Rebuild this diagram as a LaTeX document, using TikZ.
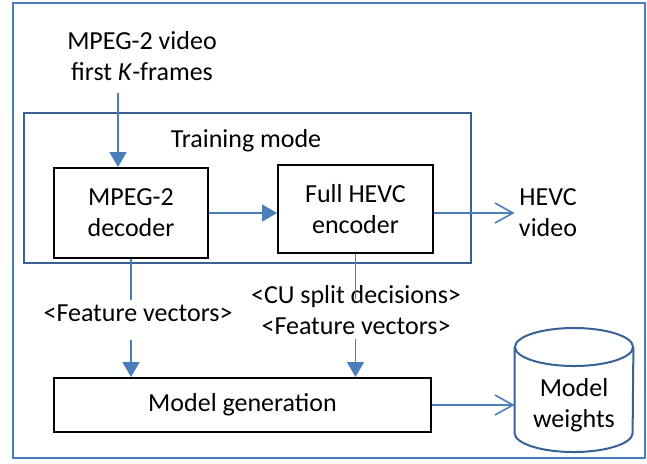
\documentclass[tikz,border=0pt]{standalone}
\usepackage{fontspec}
\setmainfont{Carlito}
\usetikzlibrary{arrows.meta, positioning}
\definecolor{linkblue}{RGB}{74,126,187}
\definecolor{frameblue}{RGB}{58,97,150}
\tikzset{
    x=0.5pt, y=-0.5pt, % one unit is one pixel of the drawing
    font=\fontsize{13pt}{15.5pt}\selectfont,
    block/.style={
            draw=black,
            line width=1pt,
            align=center,
            inner sep=0pt,
        },
    caption/.style={align=center, inner sep=2pt},
    plain/.style={draw=linkblue, line width=0.8pt}, % line with no tip
    feed/.style={plain, -{Triangle[width=8.5pt, length=7.5pt]}}, % filled head
    emit/.style={plain, -{Straight Barb[width=10pt, length=9pt]}}, % open head
}

\begin{document}
\begin{tikzpicture}
                \useasboundingbox (0,0) rectangle (647,463);

                % frames
                \draw[linkblue, line width=0.8pt] (13,3) rectangle (645,458);
                \draw[frameblue, line width=1pt] (24,113) rectangle (471,263);

                % nodes
                \node[caption] (input) at (142,56) {MPEG-2 video\\first \textit{K}-frames};
                \node[caption] (mode) at (246,141) {Training mode};
                \node[block, minimum width=77pt, minimum height=45pt] (decoder) at (131,213) {MPEG-2\\decoder};
                \node[block, minimum width=77.5pt, minimum height=44pt] (encoder) at (355.5,209) {Full HEVC\\encoder};
                \node[caption] (hevc) at (548,213) {HEVC\\video};
                \node[caption] (featA) at (138,313) {<Feature vectors>};
                \node[caption] (featB) at (356,310) {<CU split decisions>\\<Feature vectors>};
                \node[block, minimum width=188.5pt, minimum height=27pt] (modelgen) at (242.5,405) {Model generation};
                \node[caption, minimum width=59pt, inner sep=0pt] (weights) at (574,405) {Model\\weights};

                % cylinder round the weights
                \draw[frameblue, line width=1pt] ([yshift=29pt]weights.west) -- ([yshift=-14pt]weights.west)
                    arc[start angle=180, end angle=360, x radius=29.5pt, y radius=9.5pt] -- ([yshift=29pt]weights.east);
                \draw[frameblue, line width=1pt] ([yshift=29pt]weights.center) ellipse [x radius=29.5pt, y radius=9.5pt];

                % edges
                \draw[feed] ([xshift=-12pt, yshift=-4pt]input.south) -- ([xshift=-12pt]input.south |- decoder.north);
                \draw[feed] (decoder.east) -- (encoder.west |- decoder.east);
                \draw[emit] (encoder.east |- decoder.east) -- (hevc.west |- decoder.east);
                \draw[plain] (decoder.south) -- (decoder.south |- featA.north);
                \draw[feed] ([yshift=-7pt]decoder.south |- featA.south) -- (decoder.south |- modelgen.north);
                \draw[plain] (encoder.south) -- ([yshift=-22.5pt]encoder.south);
                \draw[feed] (encoder.south |- featB.south) -- (encoder.south |- modelgen.north);
                \draw[emit] (modelgen.east) -- (weights.west |- modelgen.east);

        \end{tikzpicture}
\end{document}
